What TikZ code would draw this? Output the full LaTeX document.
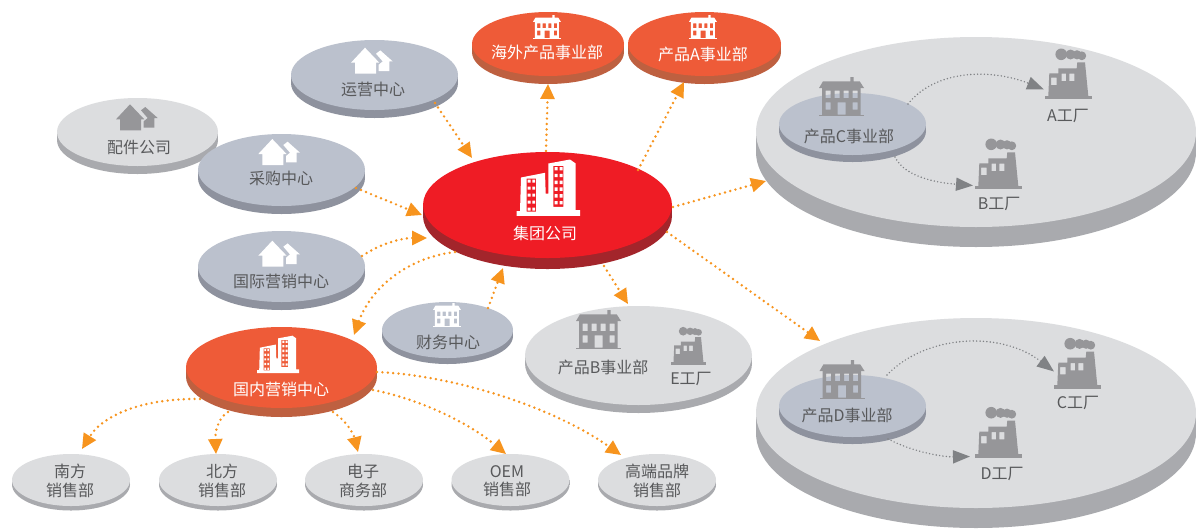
\documentclass[tikz,border=0pt]{standalone}
\usepackage{fontspec}
\setmainfont{Noto Sans CJK SC}
\usetikzlibrary{shapes.geometric,arrows.meta,calc}
\definecolor{cRed}{HTML}{EF1C25}
\definecolor{cRedS}{HTML}{A3252B}
\definecolor{cOra}{HTML}{EE5B38}
\definecolor{cOraS}{HTML}{BE6040}
\definecolor{cBlu}{HTML}{BBC1CD}
\definecolor{cBluS}{HTML}{8E929E}
\definecolor{cGry}{HTML}{DCDDDF}
\definecolor{cGryS}{HTML}{A9AAAE}
\definecolor{cIcon}{HTML}{969699}
\definecolor{cTxt}{HTML}{58595B}
\definecolor{cArr}{HTML}{F7941E}
\definecolor{cGArr}{HTML}{808285}
\tikzset{
  oarrow/.style={draw=cArr,line width=2.7pt,line cap=round,dash pattern=on 0pt off 5.4pt,
    -{Triangle[length=15pt,width=14pt,fill=cArr]}},
  garrow/.style={draw=cGArr,line width=1.6pt,line cap=round,dash pattern=on 0pt off 3.4pt,
    -{Triangle[length=17pt,width=13pt,fill=cGArr]}},
  lbl/.style={font=\fontsize{16}{18.5}\selectfont,text=cTxt,inner sep=0pt,align=center},
  wlbl/.style={lbl,text=white},
  single/.style={text height=.88em,text depth=.12em,yshift=-2.5pt}
}
% name cx cy rx ry depth top side
\newcommand\disk[8]{%
  \fill[#8] ({#2},{#3+#6}) ellipse [x radius=#4pt,y radius=#5pt];
  \fill[#8] ({#2-#4},#3) rectangle ({#2+#4},{#3+#6});
  \node[ellipse,inner sep=0pt,fill=#7,minimum width={2*#4*1pt},minimum height={2*#5*1pt}] (#1) at (#2,#3) {};
}
% x y scale colour
\newcommand\iconBuilding[4]{%
  \begin{scope}[shift={(#1,#2)},x=#3pt,y=-#3pt]
  \fill[#4,even odd rule] (31.3,0) rectangle (34.7,4.6)
    (4,4.3) -- (40.7,4.3) -- (45,11) -- (0,11) -- cycle;
  \fill[#4,even odd rule] (3,11) rectangle (41.7,37.9)
    (6.7,13.7) rectangle (11.7,21) (15.7,13.7) rectangle (20.7,21)
    (24.7,13.7) rectangle (29.7,21) (33.7,13.7) rectangle (38.7,21)
    (6.7,25.3) rectangle (11.7,32.7) (33.7,25.3) rectangle (38.7,32.7)
    (18.7,25.3) rectangle (26.7,37.7);
  \fill[#4] (0,37.7) rectangle (45,39.3);
  \end{scope}
}
\newcommand\iconFactory[4]{%
  \begin{scope}[shift={(#1,#2)},x=#3pt,y=-#3pt]
  \fill[#4] (16.2,6) circle [radius=5.8*#3pt];
  \fill[#4] (25.5,6.2) circle [radius=5*#3pt];
  \fill[#4] (32,6.5) circle [radius=4.6*#3pt];
  \fill[#4] (36.8,7.5) circle [radius=4.4*#3pt];
  \fill[#4,even odd rule] (3.3,47.7) -- (4.3,25) -- (13.3,25) -- (13.3,20) -- (31.7,20) -- (32.3,14) -- (40,14) -- (43.3,47.7) -- cycle
    (6,29.3) rectangle (11.7,36.7) (16.7,25.3) rectangle (21,32.7) (24.3,25.3) rectangle (29.3,32.7);
  \fill[#4] (0,47.3) rectangle (46.7,51);
  \end{scope}
}
\newcommand\iconTowers[4]{%
  \begin{scope}[shift={(#1,#2)},x=#3pt,y=-#3pt]
  \fill[#4,even odd rule] (0,56.3) -- (0,51.7) -- (3.3,51.7) -- (4.3,18) -- (28.3,13.3) -- (29,34) -- (31.7,34) -- (31.7,4) -- (53.3,0) -- (59,4) -- (59,50.7) -- (63.3,50.7) -- (63.3,56.3) -- cycle
    (10,19) rectangle (19.3,52) (36.7,6.3) rectangle (46.7,47.3);
  \foreach \yy in {20,27,34,41,48}{\fill[#4] (11,\yy) rectangle +(2.8,3.2) (15.6,\yy) rectangle +(2.8,3.2);}
  \foreach \yy in {7.5,14.3,21.1,27.9,34.7,41.5}{\fill[#4] (38,\yy) rectangle +(3,3.4) (43,\yy) rectangle +(3,3.4);}
  \end{scope}
}
\newcommand\iconHouses[4]{%
  \begin{scope}[shift={(#1,#2)},x=#3pt,y=-#3pt]
  \fill[#4] (14,0) -- (28.3,15) -- (25,15) -- (25,26) -- (4,26) -- (4,15) -- (0,15) -- cycle;
  \fill[#4] (29.3,2.7) -- (41.7,13.7) -- (38.3,13.7) -- (38.3,23.3) -- (27.7,23.3) -- (27.7,17) -- (31.7,13.7) -- (25,6) -- cycle;
  \end{scope}
}
\begin{document}
\begin{tikzpicture}[x=1pt,y=-1pt]
\useasboundingbox (0,0) rectangle (1196,528);
\fill[white] (0,0) rectangle (1196,528);
% large platforms
\disk{bigc}{976}{132}{220}{95}{20}{cGry}{cGryS}
\disk{bigd}{976}{413}{220}{95}{20}{cGry}{cGryS}
\disk{pc}{852.5}{124}{73.5}{31}{7}{cBlu}{cBluS}
\disk{pd}{852.5}{406}{73.5}{31}{7}{cBlu}{cBluS}
\disk{pb}{638.5}{355.5}{113.5}{49.5}{8}{cGry}{cGryS}
% central and top
\disk{hw}{548}{44}{76}{32}{8}{cOra}{cOraS}
\disk{pa}{704.5}{44}{76.5}{32}{8}{cOra}{cOraS}
\disk{pj}{137.5}{132}{80.5}{34}{8}{cGry}{cGryS}
\disk{yy}{374.5}{75}{83.5}{35}{8}{cBlu}{cBluS}
\disk{cg}{281.5}{170}{83.5}{36}{8}{cBlu}{cBluS}
\disk{gj}{281.5}{266.5}{83.5}{35.5}{8}{cBlu}{cBluS}
\disk{cw}{447.5}{330}{65.5}{28}{6}{cBlu}{cBluS}
\disk{jt}{547.5}{205}{124.5}{53}{11}{cRed}{cRedS}
\disk{gn}{281.5}{367.5}{95.5}{40.5}{9}{cOra}{cOraS}
% sales row
\disk{nf}{71}{480}{59}{26}{4.5}{cGry}{cGryS}
\disk{bf}{218}{480}{59}{26}{4.5}{cGry}{cGryS}
\disk{dz}{364}{480}{59}{26}{4.5}{cGry}{cGryS}
\disk{oe}{510.5}{480}{59}{26}{4.5}{cGry}{cGryS}
\disk{gd}{657}{480}{59}{26}{4.5}{cGry}{cGryS}
% icons
\iconTowers{516.7}{159.5}{1}{white}
\iconTowers{257}{335.7}{.665}{white}
\iconBuilding{533}{15}{.62}{white}
\iconBuilding{689}{15}{.62}{white}
\iconBuilding{433}{303}{.62}{white}
\iconBuilding{819}{77}{1}{cIcon}
\iconBuilding{819.5}{360}{1}{cIcon}
\iconBuilding{576}{310}{1}{cIcon}
\iconHouses{351}{47.7}{1}{white}
\iconHouses{116}{104.3}{1}{cIcon}
\iconHouses{258.3}{139}{1}{white}
\iconHouses{258.3}{240.7}{1}{white}
\iconFactory{1045}{48.3}{1}{cIcon}
\iconFactory{975}{138.3}{1}{cIcon}
\iconFactory{1054}{337.7}{1}{cIcon}
\iconFactory{975}{406.7}{1}{cIcon}
\iconFactory{671}{326.7}{.75}{cIcon}
% labels
\node[wlbl,single] (tjt) at (545,233) {集团公司};
\node[wlbl,single] (thw) at (547,52) {海外产品事业部};
\node[wlbl,single] (tpa) at (703,54) {产品A事业部};
\node[wlbl,single] (tgn) at (281,389) {国内营销中心};
\node[lbl,single] (tyy) at (373,89) {运营中心};
\node[lbl,single] (tpj) at (139,147) {配件公司};
\node[lbl,single] (tcg) at (281,178) {采购中心};
\node[lbl,single] (tgj) at (281,281) {国际营销中心};
\node[lbl,single] (tcw) at (448,342) {财务中心};
\node[lbl] (tnf) at (70,481) {南方\\销售部};
\node[lbl] (tbf) at (222,481) {北方\\销售部};
\node[lbl] (tdz) at (363,481) {电子\\商务部};
\node[lbl] (toe) at (507,481) {OEM\\销售部};
\node[lbl] (tgd) at (657,481) {高端品牌\\销售部};
\node[lbl,single] (tpb) at (603,367) {产品B事业部};
\node[lbl,single] (fe) at (691,378) {E工厂};
\node[lbl,single] (tpc) at (849,136) {产品C事业部};
\node[lbl,single] (fa) at (1068,115) {A工厂};
\node[lbl,single] (fb) at (999,203) {B工厂};
\node[lbl,single] (tpd) at (847,415) {产品D事业部};
\node[lbl,single] (fc) at (1078,402) {C工厂};
\node[lbl,single] (fd) at (1002,473) {D工厂};
% orange connectors
\draw[oarrow] ($(yy)+(60.5,28)$) -- ($(jt)+(-75.5,-47)$);
\draw[oarrow] ($(jt)+(-1.5,-54)$) -- ($(hw)+(0,40)$);
\draw[oarrow] ($(jt)+(90.5,-35)$) -- ($(pa)+(-20.5,38)$);
\draw[oarrow] ($(jt)+(125.5,2)$) -- ($(bigc)+(-210,49)$);
\draw[oarrow] ($(jt)+(119.5,27)$) -- ($(bigd)+(-156,-72)$);
\draw[oarrow] ($(jt)+(56.5,61)$) -- ($(pb)+(-10.5,-51.5)$);
\draw[oarrow] ($(cw)+(40.5,-22)$) -- ($(jt)+(-44.5,63)$);
\draw[oarrow] ($(cg)+(74.5,18)$) -- ($(jt)+(-125.5,10)$);
\draw[oarrow] ($(gj)+(80.5,-10.5)$) .. controls (378,245) and (400,238) .. ($(jt)+(-120.5,33)$);
\draw[oarrow] ($(jt)+(-92.5,47)$) .. controls (405,258) and (370,290) .. ($(gn)+(72.5,-32.5)$);
\draw[oarrow] ($(gn)+(-81.5,31.5)$) .. controls (150,398) and (105,412) .. ($(nf)+(11,-31)$);
\draw[oarrow] ($(gn)+(-53.5,44.5)$) .. controls (218,418) and (215,432) .. ($(bf)+(-2,-26)$);
\draw[oarrow] ($(gn)+(51.5,44.5)$) .. controls (345,420) and (353,432) .. ($(dz)+(-6,-28)$);
\draw[oarrow] ($(gn)+(91.5,22.5)$) .. controls (415,398) and (465,420) .. ($(oe)+(-4.5,-26)$);
\draw[oarrow] ($(gn)+(95.5,4.5)$) .. controls (450,375) and (550,405) .. ($(gd)+(-36,-25)$);
% grey connectors
\draw[garrow] ($(pc)+(55.5,-20)$) .. controls (935,70) and (990,68) .. ($(fa)+(-24,-28)$);
\draw[garrow] ($(pc)+(42.5,33)$) .. controls (905,178) and (940,183) .. ($(fb)+(-26,-20)$);
\draw[garrow] ($(pd)+(34.5,-31)$) .. controls (925,335) and (1000,330) .. ($(fc)+(-24,-33)$);
\draw[garrow] ($(pd)+(35.5,33)$) .. controls (915,453) and (945,457) .. ($(fd)+(-32,-19)$);
\end{tikzpicture}
\end{document}
